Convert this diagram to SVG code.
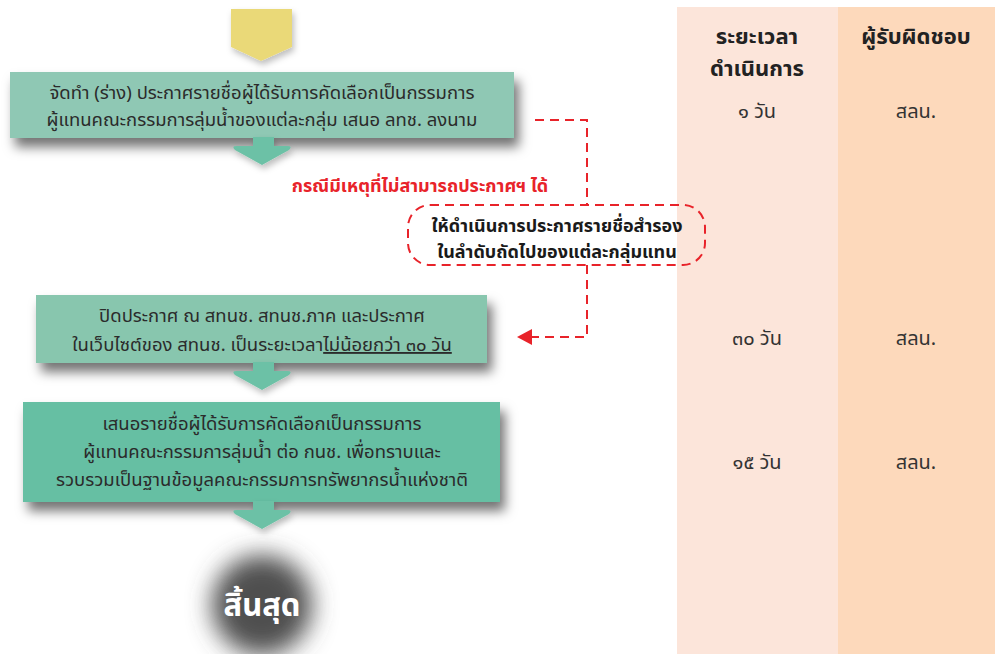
<svg xmlns="http://www.w3.org/2000/svg" width="997" height="654" viewBox="0 0 997 654">
<defs>
<style>
.t{font-family:"Noto Sans Thai","Noto Sans","DejaVu Sans",sans-serif;font-size:18.5px;fill:#2b2b2b;text-anchor:middle}
.h{font-family:"Noto Sans Thai","Noto Sans","DejaVu Sans",sans-serif;font-size:22px;font-weight:bold;fill:#222;text-anchor:middle}
.v{font-family:"Noto Sans Thai","Noto Sans","DejaVu Sans",sans-serif;font-size:20px;fill:#333;text-anchor:middle}
.b{font-family:"Noto Sans Thai","Noto Sans","DejaVu Sans",sans-serif;font-size:18px;font-weight:bold;fill:#1a1a1a;text-anchor:middle}
.r{font-family:"Noto Sans Thai","Noto Sans","DejaVu Sans",sans-serif;font-size:18px;font-weight:bold;fill:#e8232a;text-anchor:middle}
.dash{fill:none;stroke:#e8232a;stroke-width:2;stroke-dasharray:9 6}
.arr{fill:#6cc1a6}
</style>
<filter id="sh" x="-10%" y="-30%" width="125%" height="180%">
<feDropShadow dx="5" dy="9" stdDeviation="6" flood-color="#000" flood-opacity="0.55"/>
</filter>
<filter id="sh2" x="-30%" y="-30%" width="160%" height="170%">
<feDropShadow dx="2" dy="4" stdDeviation="3" flood-color="#000" flood-opacity="0.25"/>
</filter>
<filter id="blur" x="-60%" y="-60%" width="220%" height="220%">
<feGaussianBlur stdDeviation="12"/>
</filter>
</defs>

<g id="columns">
<rect x="677" y="7" width="161" height="647" fill="#fce5da"/>
<rect x="838" y="7" width="157" height="647" fill="#fdd9bb"/>
<text class="h" x="757" y="44">ระยะเวลา</text>
<text class="h" x="757" y="76">ดำเนินการ</text>
<text class="h" x="916" y="44">ผู้รับผิดชอบ</text>
<text class="v" x="757" y="118">๑ วัน</text>
<text class="v" x="916" y="118">สลน.</text>
<text class="v" x="757" y="345">๓๐ วัน</text>
<text class="v" x="916" y="345">สลน.</text>
<text class="v" x="757" y="469">๑๕ วัน</text>
<text class="v" x="916" y="469">สลน.</text>
</g>

<g id="start">
<polygon points="231,9 292,9 292,47 261,61 231,47" fill="#ead978" filter="url(#sh2)"/>
</g>

<g id="box1">
<rect x="10" y="72" width="504" height="66" fill="#8fc8b4" filter="url(#sh)"/>
<text class="t" x="262" y="99">จัดทำ (ร่าง) ประกาศรายชื่อผู้ได้รับการคัดเลือกเป็นกรรมการ</text>
<text class="t" x="262" y="126">ผู้แทนคณะกรรมการลุ่มน้ำของแต่ละกลุ่ม เสนอ ลทช. ลงนาม</text>
</g>

<g id="note">
<text class="r" x="420" y="192">กรณีมีเหตุที่ไม่สามารถประกาศฯ ได้</text>
</g>

<g id="alt">
<rect x="408" y="205" width="297" height="60" rx="22" fill="#fff" class="dash"/>
<text class="b" x="557" y="232">ให้ดำเนินการประกาศรายชื่อสำรอง</text>
<text class="b" x="557" y="258">ในลำดับถัดไปของแต่ละกลุ่มแทน</text>
</g>

<g id="box2">
<rect x="36" y="295" width="451" height="68" fill="#88c6ae" filter="url(#sh)"/>
<text class="t" x="262" y="322">ปิดประกาศ ณ สทนช. สทนช.ภาค และประกาศ</text>
<text class="t" x="262" y="351">ในเว็บไซต์ของ สทนช. เป็นระยะเวลา<tspan text-decoration="underline">ไม่น้อยกว่า ๓๐ วัน</tspan></text>
</g>

<g id="box3">
<rect x="23" y="402" width="477" height="100" fill="#66bfa3" filter="url(#sh)"/>
<text class="t" x="262" y="430">เสนอรายชื่อผู้ได้รับการคัดเลือกเป็นกรรมการ</text>
<text class="t" x="262" y="458">ผู้แทนคณะกรรมการลุ่มน้ำ ต่อ กนช. เพื่อทราบและ</text>
<text class="t" x="262" y="486">รวบรวมเป็นฐานข้อมูลคณะกรรมการทรัพยากรน้ำแห่งชาติ</text>
</g>

<g id="end">
<circle cx="262" cy="605" r="50" fill="#505050" filter="url(#blur)"/>
<text x="262" y="616" font-family="Noto Sans Thai, Noto Sans, DejaVu Sans, sans-serif" font-size="31" font-weight="bold" fill="#fff" text-anchor="middle">สิ้นสุด</text>
</g>

<g id="connectors">
<path class="arr" d="M253,137 H274 V146 H287 Q293,146 289,150 L262,165 L235,150 Q231,146 237,146 H253 Z" filter="url(#sh2)"/>
<path class="arr" d="M253,362 H274 V371 H287 Q293,371 289,375 L262,390 L235,375 Q231,371 237,371 H253 Z" filter="url(#sh2)"/>
<path class="arr" d="M253,501 H274 V510 H287 Q293,510 289,514 L262,529 L235,514 Q231,510 237,510 H253 Z" filter="url(#sh2)"/>
<polyline class="dash" points="535,120 587,120 587,205"/>
<polyline class="dash" points="587,265 587,337 532,337"/>
<polygon points="517,337 532,329 532,345" fill="#e8232a"/>
</g>
</svg>
